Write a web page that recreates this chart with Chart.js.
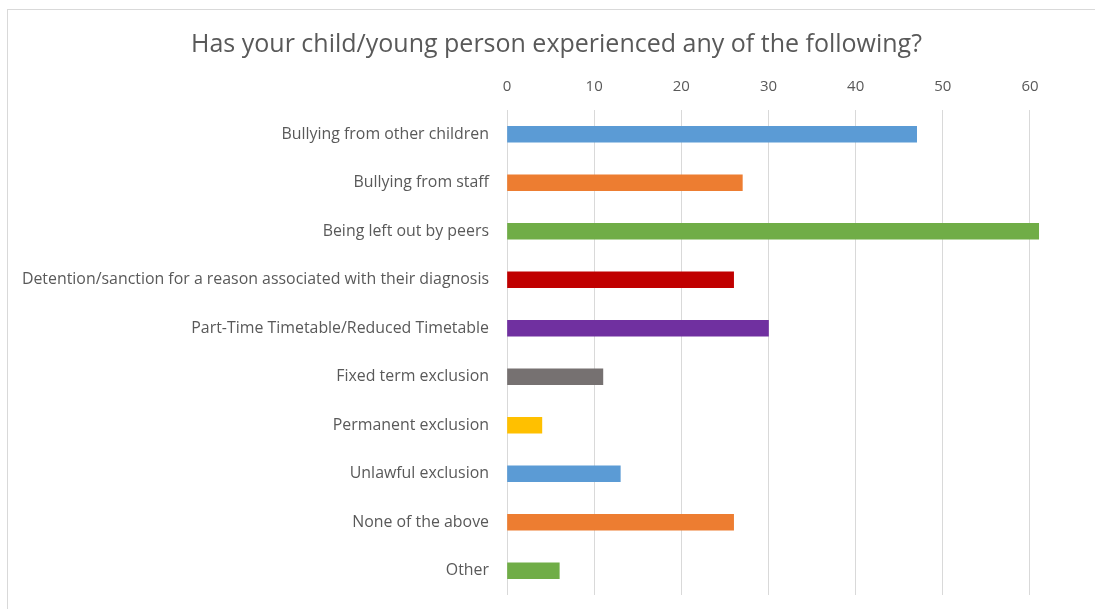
<!DOCTYPE html>
<html>
<head>
<meta charset="utf-8">
<script src="https://cdn.jsdelivr.net/npm/chart.js@4"></script>
<style>
  html, body { margin: 0; padding: 0; background: #fff; }
  #wrap { position: relative; width: 1095px; height: 609px; overflow: hidden; }
  #frame { position: absolute; left: 7px; top: 9px; width: 1200px; height: 700px; border: 1px solid #d9d9d9; box-sizing: border-box; }
  canvas { position: absolute; left: 0; top: 0; }
</style>
</head>
<body>
<div id="wrap">
  <div id="frame"></div>
  <canvas id="chart" width="1095" height="609"></canvas>
</div>
<script>
  const categories = [
    'Bullying from other children',
    'Bullying from staff',
    'Being left out by peers',
    'Detention/sanction for a reason associated with their diagnosis',
    'Part-Time Timetable/Reduced Timetable',
    'Fixed term exclusion',
    'Permanent exclusion',
    'Unlawful exclusion',
    'None of the above',
    'Other'
  ];
  const counts = [47, 27, 61, 26, 30, 11, 4, 13, 26, 6];
  const barColors = ['#5B9BD5', '#ED7D31', '#70AD47', '#C00000', '#7030A0', '#767171', '#FFC000', '#5B9BD5', '#ED7D31', '#70AD47'];
  const xTicks = [0, 10, 20, 30, 40, 50, 60];

  const font = "'Open Sans', Lato, sans-serif";
  const textColor = '#595959';

  new Chart(document.getElementById('chart'), {
    type: 'bar',
    data: {
      labels: categories,
      datasets: [{
        data: counts,
        backgroundColor: barColors,
        barThickness: 16,
        clip: false
      }]
    },
    options: {
      indexAxis: 'y',
      responsive: false,
      animation: false,
      // left padding pushes the centred title to the right like the original
      layout: { padding: { top: 30, left: 18, right: 0, bottom: 14 } },
      plugins: {
        legend: { display: false },
        tooltip: { enabled: false },
        title: {
          display: true,
          text: 'Has your child/young person experienced any of the following?',
          color: textColor,
          font: { family: font, size: 25, weight: 'normal', lineHeight: 1.2 },
          padding: { top: 0, bottom: 10 }
        }
      },
      scales: {
        x: {
          position: 'top',
          min: 0,
          max: 67.46,
          afterBuildTicks: function (scale) {
            scale.ticks = xTicks.map(function (v) { return { value: v }; });
          },
          afterFit: function (scale) { scale.height = 40; },
          grid: { color: '#d9d9d9', lineWidth: 1, drawTicks: false },
          border: { display: false },
          ticks: { color: textColor, padding: 14, font: { family: font, size: 15 } }
        },
        y: {
          grid: { display: false, drawTicks: false },
          border: { display: false },
          afterFit: function (scale) {
            scale.width = 489;
            scale.paddingTop = 0;
            scale.paddingBottom = 0;
          },
          ticks: { color: textColor, padding: 18, font: { family: font, size: 15.9 } }
        }
      }
    }
  });
</script>
</body>
</html>
